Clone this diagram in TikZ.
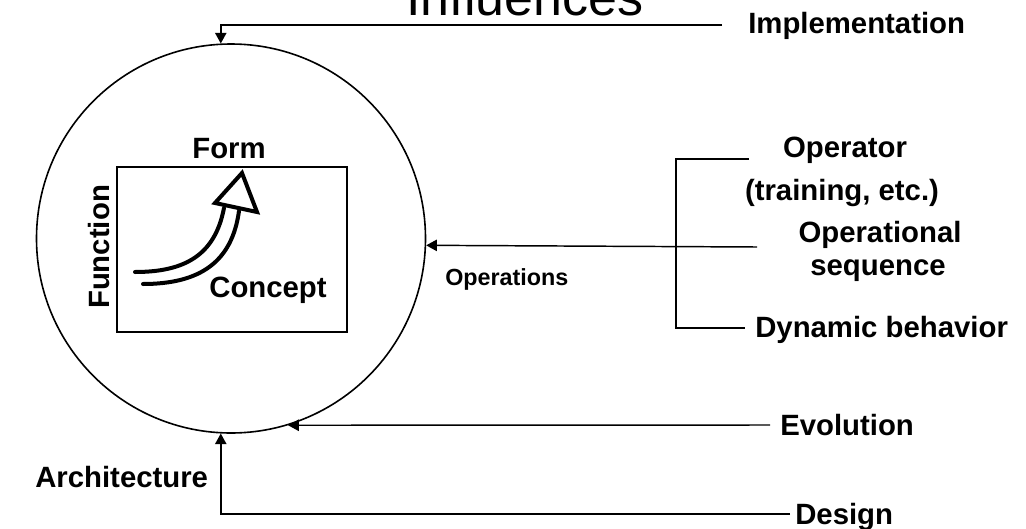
\documentclass[tikz,border=0pt]{standalone}
\usepackage{fontspec}
\setmainfont{Liberation Sans}
\usetikzlibrary{arrows.meta}

\begin{document}
\begin{tikzpicture}[x=0.75pt,y=-0.75pt,
  lbl/.style={font=\bfseries\fontsize{22}{26}\selectfont, inner sep=0pt},
  smalllbl/.style={font=\bfseries\fontsize{17.5}{21}\selectfont, inner sep=0pt},
  titlelbl/.style={font=\fontsize{39}{44}\selectfont, inner sep=0pt},
  conn/.style={line width=1.1pt},
  arr/.style={conn, -{Triangle[length=8pt,width=8.5pt]}},
  bigarrow/.style={line width=3pt, line cap=round}
]
\useasboundingbox (0,0) rectangle (1026,529);

% title (runs off the top edge)
\node[titlelbl, anchor=base] (title) at (525,15) {Influences};

% the system circle and the concept box
\node[draw, circle, line width=1.2pt, minimum size=291.75pt, inner sep=0pt] (sys) at (231,238.5) {};
\node[draw, line width=2pt, minimum width=172.5pt, minimum height=123.75pt, inner sep=0pt] (box) at (232,249.5) {};

\node[lbl, anchor=base] (form) at (229,158) {Form};
\node[lbl, anchor=base] (concept) at (268,297) {Concept};
\node[lbl, anchor=base, rotate=90] (function) at (109,247) {Function};

% hollow arrow from function to form
\draw[bigarrow] (135,272) .. controls (185,272) and (215,255) .. (224,208);
\draw[bigarrow] (143,284) .. controls (200,284) and (232,262) .. (239,211);
\draw[line width=3pt, line join=miter, fill=white] (242,173) -- (215,203) -- (257,212) -- cycle;

% influence labels
\node[lbl, anchor=base west] (impl) at (748,33) {Implementation};
\node[lbl, anchor=base] (op1) at (845,157) {Operator};
\node[lbl, anchor=base] (op2) at (842,200) {(training, etc.)};
\node[lbl, anchor=base] (seq1) at (880,242) {Operational};
\node[lbl, anchor=base] (seq2) at (878,275) {sequence};
\node[lbl, anchor=base west] (dyn) at (755,337) {Dynamic behavior};
\node[lbl, anchor=base west] (evo) at (780,435) {Evolution};
\node[lbl, anchor=base west] (design) at (795,524) {Design};
\node[lbl, anchor=base west] (arch) at (35,487) {Architecture};
\node[smalllbl, anchor=base west] (ops) at (445,285) {Operations};

% connector ends beside the labels
\coordinate (implEnd) at (722,25);
\coordinate (opEnd) at (749,159);
\coordinate (seqEnd) at (757,247);
\coordinate (dynEnd) at (745,328);
\coordinate (brX) at (676,247);
\coordinate (evoEnd) at (770,425);
\coordinate (designEnd) at (790,514);

% connectors
\draw[arr] (implEnd) -| (sys.93.24);
\draw[conn] (opEnd) -- (opEnd -| brX) |- (dynEnd);
\draw[arr] (seqEnd) -- (sys.-2.5);
\draw[arr] (evoEnd) -- (sys.-73.5);
\draw[arr] (designEnd) -| (sys.-93.24);
\end{tikzpicture}
\end{document}
